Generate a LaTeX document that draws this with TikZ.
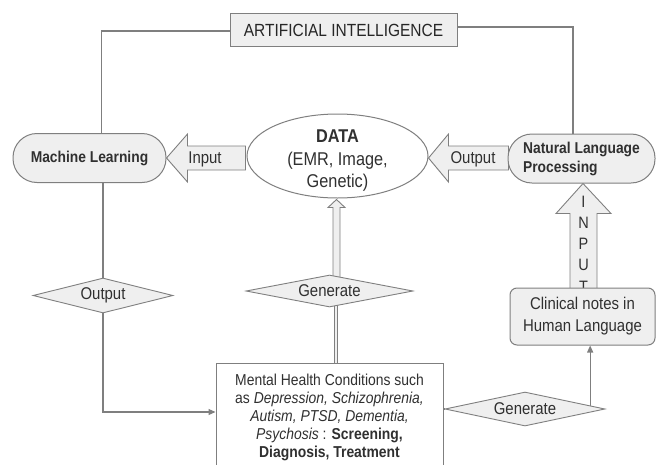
\documentclass[tikz,border=0pt]{standalone}
\usepackage{fontspec}
\setmainfont{Liberation Sans}[FakeStretch=0.88]
\usetikzlibrary{shapes.geometric,arrows.meta,calc,backgrounds}
\definecolor{lg}{HTML}{7F7F7F}
\definecolor{fg}{HTML}{EFEFEF}
\definecolor{tx}{HTML}{303030}
\begin{document}
\begin{tikzpicture}[x=1pt,y=-1pt,
  every node/.style={text=tx},
  box/.style={draw=lg, line width=1pt, fill=fg, inner sep=0pt},
  pill/.style={box, rounded corners=24pt, minimum width=#1, minimum height=49pt},
  dia/.style={draw=lg, line width=0.9pt, fill=fg, diamond, aspect=5, inner sep=0pt,
              font=\fontsize{17}{20}\selectfont},
  conn/.style={draw=lg, line width=1.1pt},
  fat/.style={draw=lg, line width=0.9pt, fill=fg, line join=miter},
  arr/.style={-{Triangle[length=7pt,width=6pt]}},
  lab/.style={inner sep=0pt, font=\fontsize{17}{20}\selectfont},
]
\clip (0,0) rectangle (657,464);

% nodes
\node[box, minimum width=227pt, minimum height=33pt, text=black!85, font=\fontsize{17.6}{20}\selectfont] (ai) at (343.5,30) {ARTIFICIAL INTELLIGENCE};
\node[pill=153pt, font=\bfseries\fontsize{15.7}{19}\selectfont] (ml) at (89.5,158) {Machine Learning};
\node[draw=lg, line width=1pt, fill=white, ellipse, minimum width=181pt, minimum height=84pt, inner sep=0pt] (data) at (337.5,156) {};
\node[align=center, inner sep=0pt, font=\fontsize{18.5}{22.5}\selectfont] (datat) at (337.5,161) {\textbf{DATA}\\(EMR, Image,\\Genetic)};
\node[pill=147pt, align=left, font=\bfseries\fontsize{15.7}{19}\selectfont] (nlp) at (581.5,158.5) {Natural Language\\Processing};
\node[box, rounded corners=7pt, minimum width=145pt, minimum height=57pt, align=center, font=\fontsize{17}{22}\selectfont] (clin) at (582.5,316.5) {Clinical notes in\\Human Language};
\node[draw=lg, line width=1pt, fill=white, minimum width=227pt, minimum height=107pt, inner sep=0pt] (mh) at (329.5,416.5) {};
\node[anchor=north, align=center, inner sep=0pt, font=\fontsize{15.8}{18}\selectfont] (mht) at (329.5,374) {Mental Health Conditions such\\as \textit{Depression, Schizophrenia,}\\\textit{Autism, PTSD, Dementia,}\\\textit{Psychosis} : \textbf{Screening,}\\\textbf{Diagnosis, Treatment}};
\node[dia, minimum width=167pt, minimum height=32pt] (gen1) at (329.5,291) {Generate};
\node[dia, minimum width=160pt, minimum height=34pt] (gen2) at (525,409) {Generate};
\node[dia, minimum width=140pt, minimum height=35pt] (out) at (103,295.5) {Output};

\begin{pgfonlayer}{background}
  % fat arrows
  \draw[fat] (ml.east) -- ++(21,-24) -- ++(0,12) -- ++(58,0) -- ++(0,24) -- ++(-58,0) -- ++(0,12) -- cycle;
  \node[lab] (inlab) at (205,159) {Input};
  \draw[fat] ($(data.east)+(0,2)$) -- ++(20,-24) -- ++(0,12) -- ++(60,0) -- ++(0,24) -- ++(-60,0) -- ++(0,12) -- cycle;
  \node[lab] (outlab) at (473,159) {Output};
  \draw[fat] ($(nlp.south)+(1.5,0)$) -- ++(28,30) -- ++(-14,0) -- ++(0,75) -- ++(-27,0) -- ++(0,-75) -- ++(-14,0) -- cycle;
  \node[lab, align=center, font=\fontsize{16.5}{21.3}\selectfont] (inputlab) at (583.5,244) {I\\N\\P\\U\\T};
  \draw[fat] ($(data.south)+(-1,1)$) -- ++(8.5,8) -- ++(-5,0) -- ++(0,73) -- ++(-7,0) -- ++(0,-73) -- ++(-5,0) -- cycle;
  \draw[draw=lg, line width=0.8pt, double=fg, double distance=2.2pt] ($(mh.north)+(6.3,0)$) -- ($(gen1.south)+(6.3,-2)$);
  % lines
  \draw[conn] ([yshift=-1pt]ai.west) -| ([xshift=12pt]ml.north);
  \draw[conn] ([yshift=3pt]ai.east) -| ([xshift=-8.5pt]nlp.north);
  \draw[conn] ([xshift=13.5pt]ml.south) -- (out.north);
  \draw[conn, arr] (out.south) |- ([yshift=4.5pt]mh.west);
  \draw[conn] (mh.east |- gen2.west) -- (gen2.west);
  \coordinate (g2p) at ($(gen2.east)!0.19!(gen2.north)$);
  \draw[conn, arr] (g2p) -- (g2p |- clin.south);
\end{pgfonlayer}
\end{tikzpicture}
\end{document}
